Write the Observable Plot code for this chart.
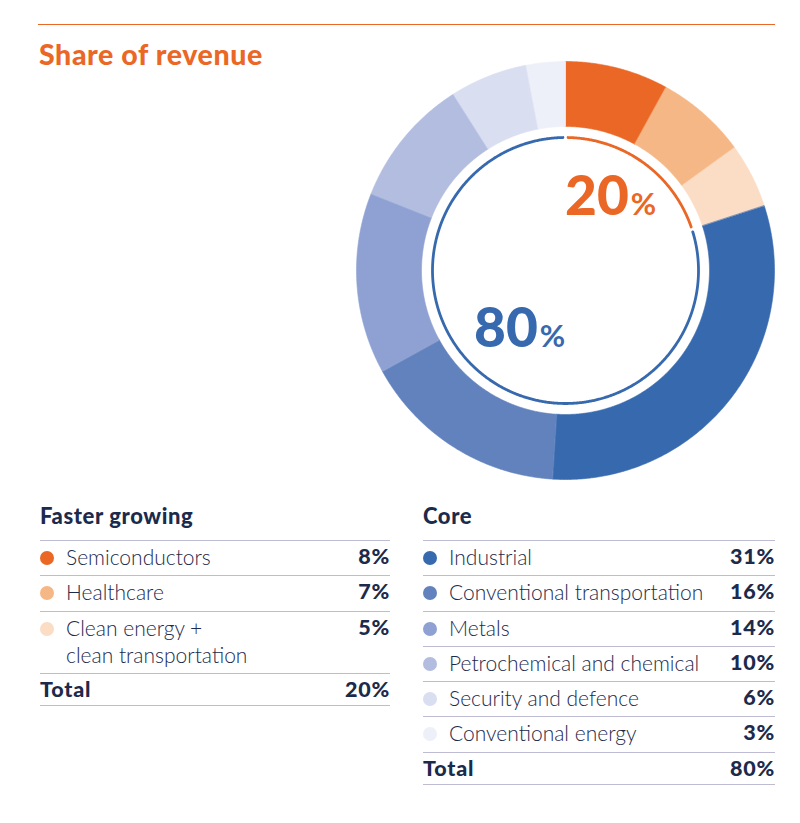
<!DOCTYPE html>
<html><head><meta charset="utf-8">
<script src="https://cdn.jsdelivr.net/npm/d3@7"></script>
<script src="https://cdn.jsdelivr.net/npm/@observablehq/plot@0.6"></script>
<style>
body{margin:0;background:#fff;font-family:Lato,"Open Sans",sans-serif;color:#1c2a4c;}
#page{position:relative;width:800px;height:823px;overflow:hidden;}
#topline{position:absolute;left:38px;top:24px;width:737px;height:0;border-top:1.2px solid #ea6726;}
#title{position:absolute;left:39px;top:40px;font-size:28.5px;line-height:28px;font-weight:900;color:#ea6726;letter-spacing:0.6px;}
#chart{position:absolute;left:345px;top:50px;}
.big{position:absolute;display:flex;align-items:baseline;font-weight:900;line-height:1;}
.big .n{font-size:55px;}
.big .p{font-size:31px;font-weight:700;margin-left:2px;}
.tbl{position:absolute;}
.tbl h3{position:absolute;margin:0;font-size:22px;font-weight:900;line-height:20px;white-space:nowrap;letter-spacing:0.6px;}
.rows{position:absolute;left:0;right:0;}
.row{position:relative;box-sizing:border-box;border-top:1px solid #bdbcd2;height:35.3px;font-size:21px;line-height:27px;font-weight:300;}
.row.total{height:33.5px;border-bottom:1px solid #bdbcd2;}
.row .dot{position:absolute;left:0;top:10px;width:14px;height:14px;border-radius:50%;}
.row .lab{position:absolute;left:26px;top:2px;white-space:nowrap;}
.row.total .lab{left:0;font-weight:900;font-size:21.5px;letter-spacing:0.8px;}
.row .val{position:absolute;right:0;top:2px;font-weight:900;font-size:21.5px;letter-spacing:0.8px;}
</style></head><body>
<div id="page">
  <div id="topline"></div>
  <div id="title">Share of revenue</div>
  <div id="chart"></div>
  <div class="big" id="lab20" style="left:565px;top:167px;color:#ea6726"><span class="n">20</span><span class="p">%</span></div>
  <div class="big" id="lab80" style="left:474px;top:299px;color:#3769ae"><span class="n">80</span><span class="p">%</span></div>
  <div class="tbl" id="tblA" style="left:40px;top:540px;width:350px"></div>
  <div class="tbl" id="tblB" style="left:423px;top:540px;width:352px"></div>
</div>
<script>
// ---- data ----
const groups = ["Faster growing", "Core"];
const fasterCategories = ["Semiconductors", "Healthcare", "Clean energy +\nclean transportation"];
const fasterValues = [8, 7, 5];
const fasterColors = ["#ea6726", "#f6b786", "#fbdcc4"];
const coreCategories = ["Industrial", "Conventional transportation", "Metals", "Petrochemical and chemical", "Security and defence", "Conventional energy"];
const coreValues = [31, 16, 14, 10, 6, 3];
const coreColors = ["#3769ae", "#6282be", "#8ea1d2", "#b2bde0", "#d9def1", "#eef0f9"];
const groupTotals = [20, 80];
const groupColors = ["#ea6726", "#3769ae"];

// ---- geometry config ----
const W = 440, H = 440;
const R_OUT = 209, R_IN = 144, R_ARC = 133, HALF = 220;
const GAP_DEG = 1.1;

const categories = [...fasterCategories, ...coreCategories];
const values = [...fasterValues, ...coreValues];
const colors = [...fasterColors, ...coreColors];
const total = d3.sum(values);

function arcPts(r, a0, a1) {
  const pts = [];
  const n = Math.max(2, Math.ceil(Math.abs(a1 - a0) / 0.4));
  for (let i = 0; i <= n; i++) {
    const a = (a0 + (a1 - a0) * i / n) * Math.PI / 180;
    pts.push([r * Math.sin(a), r * Math.cos(a)]);
  }
  return pts;
}

const slices = [];
let cum = 0;
categories.forEach((c, i) => {
  const a0 = cum / total * 360, a1 = (cum + values[i]) / total * 360;
  cum += values[i];
  const outer = arcPts(R_OUT, a0, a1);
  const inner = arcPts(R_IN, a1, a0);
  [...outer, ...inner].forEach(([x, y]) => slices.push({cat: c, x, y}));
});

const rings = [];
let cg = 0;
groups.forEach((g, i) => {
  const a0 = cg / total * 360 + GAP_DEG, a1 = (cg + groupTotals[i]) / total * 360 - GAP_DEG;
  cg += groupTotals[i];
  arcPts(R_ARC, a0, a1).forEach(([x, y]) => rings.push({grp: g, x, y}));
});

const groupColor = d3.scaleOrdinal(groups, groupColors);

const plot = Plot.plot({
  width: W, height: H, margin: 0,
  x: {domain: [-HALF, HALF], axis: null},
  y: {domain: [-HALF, HALF], axis: null},
  color: {domain: categories, range: colors},
  marks: [
    Plot.line(slices, {x: "x", y: "y", z: "cat", fill: "cat", stroke: "cat", strokeWidth: 0.6, curve: "linear-closed"}),
    Plot.line(rings, {x: "x", y: "y", z: "grp", stroke: d => groupColor(d.grp), strokeWidth: 2.8, fill: "none"})
  ]
});
document.getElementById("chart").appendChild(plot);

// ---- tables ----
function buildTable(el, title, cats, vals, cols, tot) {
  const h = document.createElement("h3");
  h.textContent = title;
  h.style.top = "-34px";
  el.appendChild(h);
  const rows = document.createElement("div");
  rows.className = "rows";
  el.appendChild(rows);
  cats.forEach((c, i) => {
    const r = document.createElement("div");
    r.className = "row";
    const lines = c.split("\n");
    if (lines.length > 1) r.style.height = (35.3 + 27 * (lines.length - 1)) + "px";
    const dot = document.createElement("span"); dot.className = "dot"; dot.style.background = cols[i];
    const lab = document.createElement("span"); lab.className = "lab"; lab.innerHTML = lines.join("<br>");
    const val = document.createElement("span"); val.className = "val"; val.textContent = vals[i] + "%";
    r.append(dot, lab, val);
    rows.appendChild(r);
  });
  const t = document.createElement("div");
  t.className = "row total";
  t.innerHTML = `<span class="lab">Total</span><span class="val">${tot}%</span>`;
  rows.appendChild(t);
}
buildTable(document.getElementById("tblA"), groups[0], fasterCategories, fasterValues, fasterColors, groupTotals[0]);
buildTable(document.getElementById("tblB"), groups[1], coreCategories, coreValues, coreColors, groupTotals[1]);
</script>
</body></html>
